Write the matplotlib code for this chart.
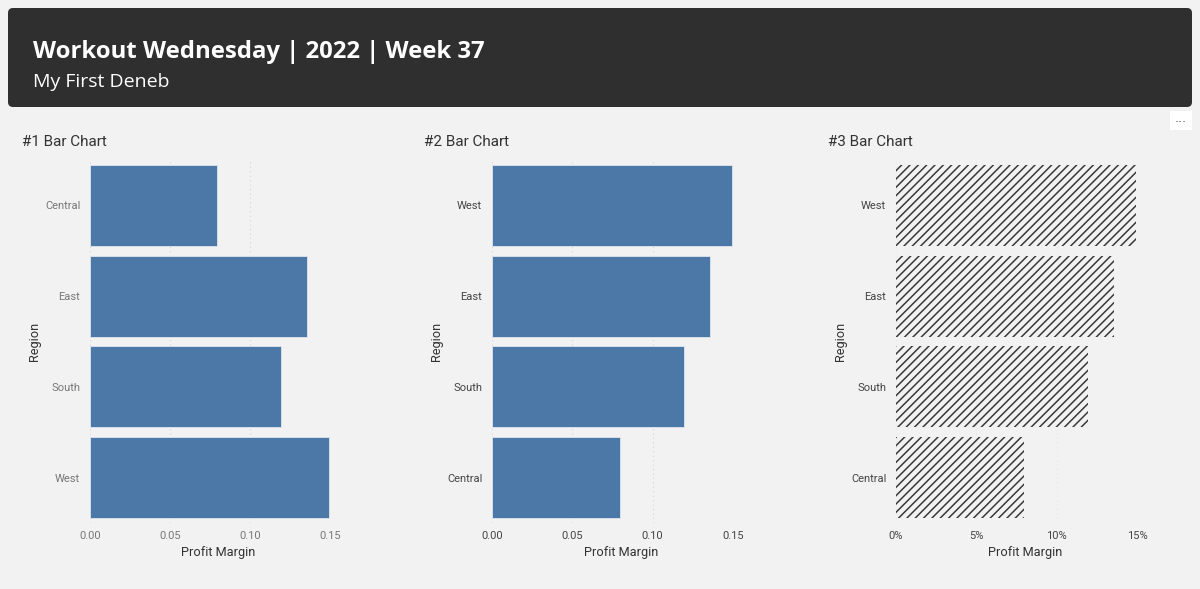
import matplotlib.pyplot as plt
from matplotlib.patches import FancyBboxPatch, Rectangle
from matplotlib.ticker import FuncFormatter

# profit margin by region
regions = ["Central", "East", "South", "West"]
margins = [0.0795, 0.1355, 0.1195, 0.1495]

# sorted version for charts 2 and 3
order = sorted(range(len(regions)), key=lambda i: margins[i], reverse=True)
sorted_regions = [regions[i] for i in order]
sorted_margins = [margins[i] for i in order]

x_ticks = [0.0, 0.05, 0.10, 0.15]

chart_titles = ["#1 Bar Chart", "#2 Bar Chart", "#3 Bar Chart"]

BG = "#f2f2f2"
BAR = "#4c78a8"
W, H = 1200, 589

plt.rcParams["hatch.linewidth"] = 1.1

fig = plt.figure(figsize=(12, 5.89), dpi=100, facecolor=BG)

# background layer in pixel coordinates
bg = fig.add_axes([0, 0, 1, 1], zorder=-1)
bg.set_xlim(0, W)
bg.set_ylim(H, 0)
bg.axis("off")
bg.add_patch(FancyBboxPatch((8, 8), 1184, 99, boxstyle="round,pad=0,rounding_size=5",
                            facecolor="#2f2f2f", edgecolor="none"))
bg.text(33, 52, "Workout Wednesday | 2022 | Week 37", color="white", fontsize=17.2,
        fontweight="bold", family="Open Sans", va="center", ha="left")
bg.text(33, 82, "My First Deneb", color="white", fontsize=14, family="Open Sans",
        va="center", ha="left")
bg.add_patch(Rectangle((1170, 111), 22, 19, facecolor="white", edgecolor="none"))
bg.text(1181, 119, "...", color="#555555", fontsize=9, ha="center", va="center")


def px_axes(x0, x1, y0, y1):
    return fig.add_axes([x0 / W, 1 - y1 / H, (x1 - x0) / W, (y1 - y0) / H])


def draw_chart(x0, x1, cats, vals, title, tick_color, hatch=False, pct=False):
    ax = px_axes(x0, x1, 160, 523)
    ax.set_facecolor("none")
    pos = range(len(cats))
    if hatch:
        ax.barh(pos, vals, height=0.893, facecolor="none", edgecolor="#3a3a3a",
                hatch="////", linewidth=0, zorder=3)
        grid_color = "#e8e8e8"
    else:
        ax.barh(pos, vals, height=0.893, color=BAR, edgecolor="#dfe6ee",
                linewidth=0.6, zorder=3)
        grid_color = "#d4d4d4"
    ax.set_ylim(3.5, -0.5)
    ax.set_xlim(0, 0.15)
    ax.set_yticks(list(pos))
    ax.set_yticklabels(cats)
    ax.set_xticks(x_ticks)
    if pct:
        ax.xaxis.set_major_formatter(FuncFormatter(lambda v, p: f"{v * 100:.0f}%"))
    else:
        ax.xaxis.set_major_formatter(FuncFormatter(lambda v, p: f"{v:.2f}"))
    for s in ax.spines.values():
        s.set_visible(False)
    ax.tick_params(axis="both", length=0, colors=tick_color, labelsize=8)
    ax.tick_params(axis="y", pad=7)
    ax.tick_params(axis="x", pad=6)
    for lab in ax.get_xticklabels() + ax.get_yticklabels():
        lab.set_family("Roboto")
    ax.grid(axis="x", color=grid_color, linestyle=(0, (1, 3)), linewidth=0.8, zorder=0)
    ax.set_axisbelow(True)
    ax.set_xlabel("Profit Margin", fontsize=9.2, color="#333333", family="Roboto")
    ax.xaxis.set_label_coords(0.5 + 8.5 / (x1 - x0), -23 / 363)
    ax.set_ylabel("Region", fontsize=9.2, color="#333333", family="Roboto")
    ax.yaxis.set_label_coords(-49 / (x1 - x0), 0.5)
    fig.text((x0 - 68) / W, 1 - 142 / H, title, fontsize=11, color="#333333",
             family="Roboto", va="center", ha="left")
    return ax


draw_chart(90, 330, regions, margins, chart_titles[0], "#777777")
draw_chart(492, 733, sorted_regions, sorted_margins, chart_titles[1], "#444444")
draw_chart(896, 1137, sorted_regions, sorted_margins, chart_titles[2], "#444444",
           hatch=True, pct=True)

fig.savefig("out.png", dpi=100, facecolor=BG)
